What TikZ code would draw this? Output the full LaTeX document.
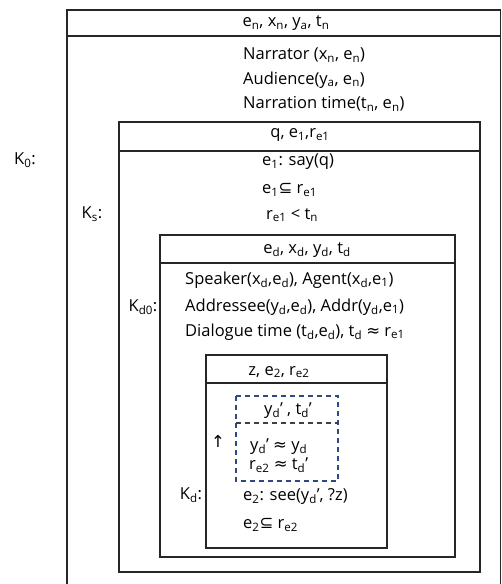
\documentclass[tikz,border=0pt]{standalone}
\usepackage{fontspec}
\setmainfont{Open Sans}
\newfontfamily\symfont{DejaVu Sans}
\newcommand{\sbs}[1]{\textsubscript{#1}}
\newcommand{\sbe}{{\symfont ⊆}}
\newcommand{\apx}{{\symfont ≈}}
\definecolor{dashblue}{HTML}{2E4A86}
\tikzset{
    lbl/.style={inner sep=0pt, font=\fontsize{16.5}{19}\selectfont},
    row/.style={lbl, anchor=west},
    boxline/.style={line width=1.4pt, draw=black!85}
}
\begin{document}
\begin{tikzpicture}[x=1pt, y=-1pt]
                \useasboundingbox (0,0) rectangle (501,584);
                \clip (0,0) rectangle (501,584);

                \foreach \l/\t/\r/\b/\h in {67/10/500.5/600/36, 119/122/480/572/151,
                                          160/235/455/557/263, 206/355/387/548/383}
                    \draw[boxline] (\l,\t) rectangle (\r,\b) (\l,\h) -- (\r,\h);

                \draw[line width=1.4pt, dashblue, dash pattern=on 5pt off 4pt] (236,396) rectangle (338,481);
                \draw[line width=1.4pt, black!75, dash pattern=on 5pt off 4pt] (236,423) -- (338,423);

                \node[lbl] (k0) at (25,160) {K\sbs{0}:};
                \node[lbl] (ks) at (92,214) {K\sbs{s}:};
                \node[lbl] (kd0) at (143,307) {K\sbs{d0}:};
                \node[lbl] (kd) at (191,495) {K\sbs{d}:};
                \node[lbl] (up) at (218,441) {\symfont ↑};

                \node[lbl] (h0) at (286,23) {e\sbs{n}, x\sbs{n}, y\sbs{a}, t\sbs{n}};
                \node[row] (narr) at (243,55) {Narrator (x\sbs{n}, e\sbs{n})};
                \node[row] (aud) at (243,80) {Audience(y\sbs{a}, e\sbs{n})};
                \node[row] (ntime) at (243,104) {Narration time(t\sbs{n}, e\sbs{n})};

                \node[lbl] (hs) at (300,135) {q, e\sbs{1},r\sbs{e1}};
                \node[row] (say) at (262,162) {e\sbs{1}: say(q)};
                \node[row] (incl1) at (262,190) {e\sbs{1}\sbe\ r\sbs{e1}};
                \node[row] (prec) at (266,215) {r\sbs{e1} < t\sbs{n}};

                \node[lbl] (hd0) at (307,250) {e\sbs{d}, x\sbs{d}, y\sbs{d}, t\sbs{d}};
                \node[row] (spk) at (185,280) {Speaker(x\sbs{d},e\sbs{d}), Agent(x\sbs{d},e\sbs{1})};
                \node[row] (adr) at (185,307) {Addressee(y\sbs{d},e\sbs{d}), Addr(y\sbs{d},e\sbs{1})};
                \node[row] (dtime) at (185,332) {Dialogue time (t\sbs{d},e\sbs{d}), t\sbs{d} \apx\ r\sbs{e1}};

                \node[lbl] (hd) at (279,372) {z, e\sbs{2}, r\sbs{e2}};
                \node[lbl] (hp) at (288,411) {y\sbs{d}’ , t\sbs{d}’};
                \node[row] (yapx) at (250,447) {y\sbs{d}’ \apx\ y\sbs{d}};
                \node[row] (rapx) at (249,465) {r\sbs{e2} \apx\ t\sbs{d}’};
                \node[row] (see) at (243,497) {e\sbs{2}: see(y\sbs{d}’, ?z)};
                \node[row] (incl2) at (243,525) {e\sbs{2}\sbe\ r\sbs{e2}};
\end{tikzpicture}
\end{document}
